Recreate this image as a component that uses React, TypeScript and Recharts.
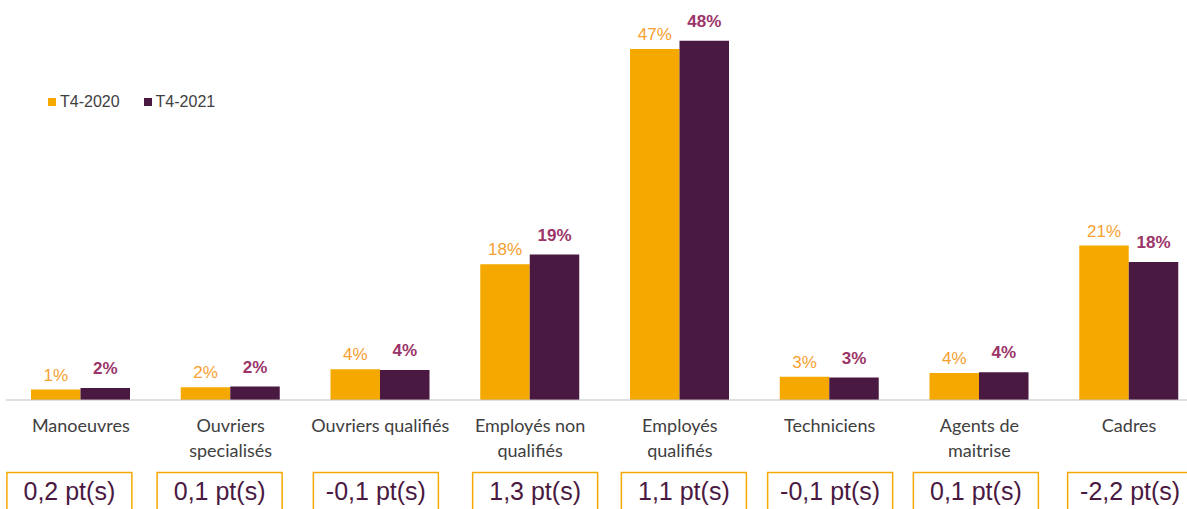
import React from "react";
import { Bar, BarChart, LabelList, Legend, XAxis, YAxis } from "recharts";

// categories (line breaks follow the reference wrapping)
const categories = [
  "Manoeuvres",
  "Ouvriers\nspecialisés",
  "Ouvriers qualifiés",
  "Employés non\nqualifiés",
  "Employés\nqualifiés",
  "Techniciens",
  "Agents de\nmaitrise",
  "Cadres",
];

// share of each category, in %
const t2020 = [1.4, 1.7, 4.1, 18.1, 46.8, 3.1, 3.6, 20.6];
const t2021 = [1.6, 1.8, 4.0, 19.4, 47.9, 3.0, 3.7, 18.4];

// evolution shown in the boxes under the axis
const deltas = [
  "0,2 pt(s)",
  "0,1 pt(s)",
  "-0,1 pt(s)",
  "1,3 pt(s)",
  "1,1 pt(s)",
  "-0,1 pt(s)",
  "0,1 pt(s)",
  "-2,2 pt(s)",
];

const seriesNames = ["T4-2020", "T4-2021"];

// layout only: the boxes were placed by hand in the original
const boxShift = [-11.5, -11, -4.5, 5, 4, 0.5, -3.5, 1];

const ORANGE = "#F5A800";
const PURPLE = "#4A1942";
const ORANGE_TEXT = "#F7A030";
const PURPLE_TEXT = "#9B3468";
const GREY_TEXT = "#404040";

const data = categories.map((name, i) => ({
  name,
  t2020: t2020[i],
  t2021: t2021[i],
}));

const pct = (v: any) => `${Math.round(Number(v))}%`;

function CategoryTick(props: any) {
  const { x, y, payload } = props;
  const i = props.index ?? payload.index ?? 0;
  const lines = String(payload.value).split("\n");
  const bx = x + boxShift[i];
  return (
    <g>
      {lines.map((line: string, k: number) => (
        <text
          key={k}
          x={x}
          y={y + 32 + k * 25}
          textAnchor="middle"
          fill={GREY_TEXT}
          fontSize={18}
          fontFamily="Lato, 'Open Sans', sans-serif"
        >
          {line}
        </text>
      ))}
      <rect
        x={bx - 62.5}
        y={y + 72.5}
        width={125}
        height={45}
        fill="#fff"
        stroke={ORANGE}
        strokeWidth={1.5}
      />
      <text
        x={bx}
        y={y + 99.5}
        textAnchor="middle"
        fill={PURPLE}
        fontSize={25}
        fontFamily="'Liberation Sans', Arial, sans-serif"
      >
        {deltas[i]}
      </text>
    </g>
  );
}

function LegendContent(props: any) {
  const items = props.payload || [];
  return (
    <div
      style={{
        display: "flex",
        alignItems: "center",
        fontFamily: "'Liberation Sans', Arial, sans-serif",
        fontSize: 16,
        lineHeight: "16px",
        color: GREY_TEXT,
      }}
    >
      {items.map((item: any, k: number) => (
        <div
          key={k}
          style={{ display: "flex", alignItems: "center", marginRight: 24 }}
        >
          <span
            style={{
              display: "inline-block",
              width: 8,
              height: 8,
              background: item.color,
              marginRight: 4,
            }}
          />
          <span>{item.value}</span>
        </div>
      ))}
    </div>
  );
}

export default function App() {
  return (
    <div
      style={{
        position: "absolute",
        left: 0,
        top: 0,
        width: 1187,
        height: 509,
        overflow: "hidden",
        background: "#fff",
      }}
    >
      <BarChart
        width={1210}
        height={509}
        data={data}
        margin={{ top: 25, right: 6, left: 6, bottom: 0 }}
        barGap={0}
        barSize={49.5}
      >
        <XAxis
          dataKey="name"
          interval={0}
          tickLine={false}
          tickSize={0}
          tickMargin={0}
          height={109}
          axisLine={{ stroke: "#BFBFBF", strokeWidth: 1 }}
          tick={<CategoryTick />}
        />
        <YAxis hide domain={[0, 50]} />
        <Legend
          layout="horizontal"
          verticalAlign="middle"
          align="center"
          content={<LegendContent />}
          wrapperStyle={{ left: 48, top: 94, width: 260, height: 16 }}
        />
        <Bar
          dataKey="t2020"
          name={seriesNames[0]}
          fill={ORANGE}
          isAnimationActive={false}
        >
          <LabelList
            dataKey="t2020"
            position="top"
            offset={9}
            formatter={pct}
            fill={ORANGE_TEXT}
            fontSize={17}
            fontFamily="'Liberation Sans', Arial, sans-serif"
          />
        </Bar>
        <Bar
          dataKey="t2021"
          name={seriesNames[1]}
          fill={PURPLE}
          isAnimationActive={false}
        >
          <LabelList
            dataKey="t2021"
            position="top"
            offset={14}
            formatter={pct}
            fill={PURPLE_TEXT}
            fontSize={17}
            fontWeight="bold"
            fontFamily="'Liberation Sans', Arial, sans-serif"
          />
        </Bar>
      </BarChart>
    </div>
  );
}
